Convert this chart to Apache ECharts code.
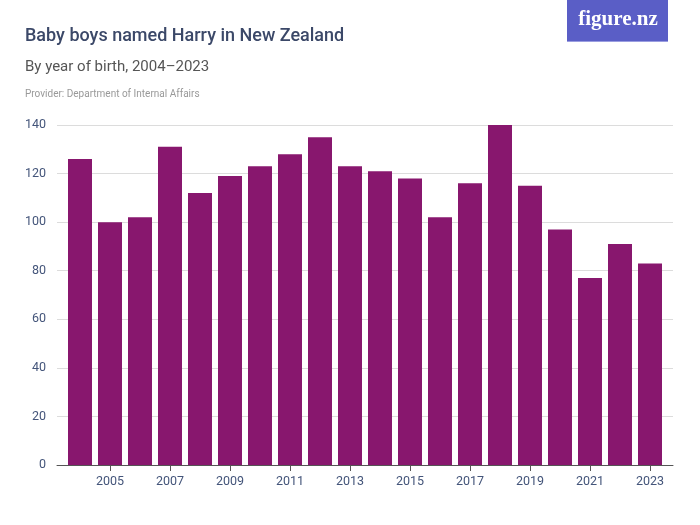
<!DOCTYPE html>
<html><head><meta charset="utf-8">
<script src="https://cdn.jsdelivr.net/npm/echarts@6/dist/echarts.min.js"></script>
<style>html,body{margin:0;padding:0;background:#fff}#c{width:700px;height:525px}</style>
</head><body><div id="c"></div>
<script>
const years = [2004,2005,2006,2007,2008,2009,2010,2011,2012,2013,2014,2015,2016,2017,2018,2019,2020,2021,2022,2023];
const harry = [126,100,102,131,112,119,123,128,135,123,121,118,102,116,140,115,97,77,91,83];
const xTickYears = [2005,2007,2009,2011,2013,2015,2017,2019,2021,2023];
const yTicks = [0,20,40,60,80,100,120,140];

const F = 'Roboto,"Noto Sans",sans-serif';
const pad = 0.5 + 8/30;
const chart = echarts.init(document.getElementById('c'), null, {renderer:'canvas'});
chart.setOption({
  animation:false,
  textStyle:{fontFamily:F},
  grid:{left:57,right:27,top:125,bottom:60,containLabel:false},
  graphic:[
    {type:'text',left:25,top:27,style:{text:'Baby boys named Harry in New Zealand',font:'500 18px '+F,fill:'#3b4868'}},
    {type:'text',left:25,top:60,style:{text:'By year of birth, 2004–2023',font:'15px '+F,fill:'#555'}},
    {type:'text',left:25,top:89,style:{text:'Provider: Department of Internal Affairs',font:'10px '+F,fill:'#999'}},
    {type:'rect',shape:{x:567,y:0,width:101,height:42},style:{fill:'#5a5ec6'}},
    {type:'rect',shape:{x:567,y:41,width:101,height:1},style:{fill:'#9a9de0'}},
    {type:'text',x:618,y:20,style:{text:'figure.nz',font:'bold 21px "Liberation Serif","DejaVu Serif",serif',fill:'#fff',align:'center',verticalAlign:'middle'}}
  ],
  xAxis:{type:'value',min:years[0]-pad,max:years[years.length-1]+pad,
    splitLine:{show:false},
    axisLine:{onZero:false,lineStyle:{color:'#555',width:1}},
    axisTick:{show:true,length:6,lineStyle:{color:'#555'},customValues:xTickYears},
    axisLabel:{color:'#44557a',fontSize:12.5,margin:10,fontFamily:F,customValues:xTickYears,formatter:(v)=>String(v)}
  },
  yAxis:{type:'value',min:0,max:140,interval:20,
    axisLine:{show:false},axisTick:{show:false},
    axisLabel:{color:'#44557a',fontSize:12.5,margin:11,fontFamily:F,
      formatter:(v)=>yTicks.includes(v)?String(v):''},
    splitLine:{lineStyle:{color:'#dcdcdc',width:1}}
  },
  series:[{type:'bar',data:years.map((y,i)=>[y,harry[i]]),barWidth:24,itemStyle:{color:'#88176e'}}]
});
</script></body></html>
